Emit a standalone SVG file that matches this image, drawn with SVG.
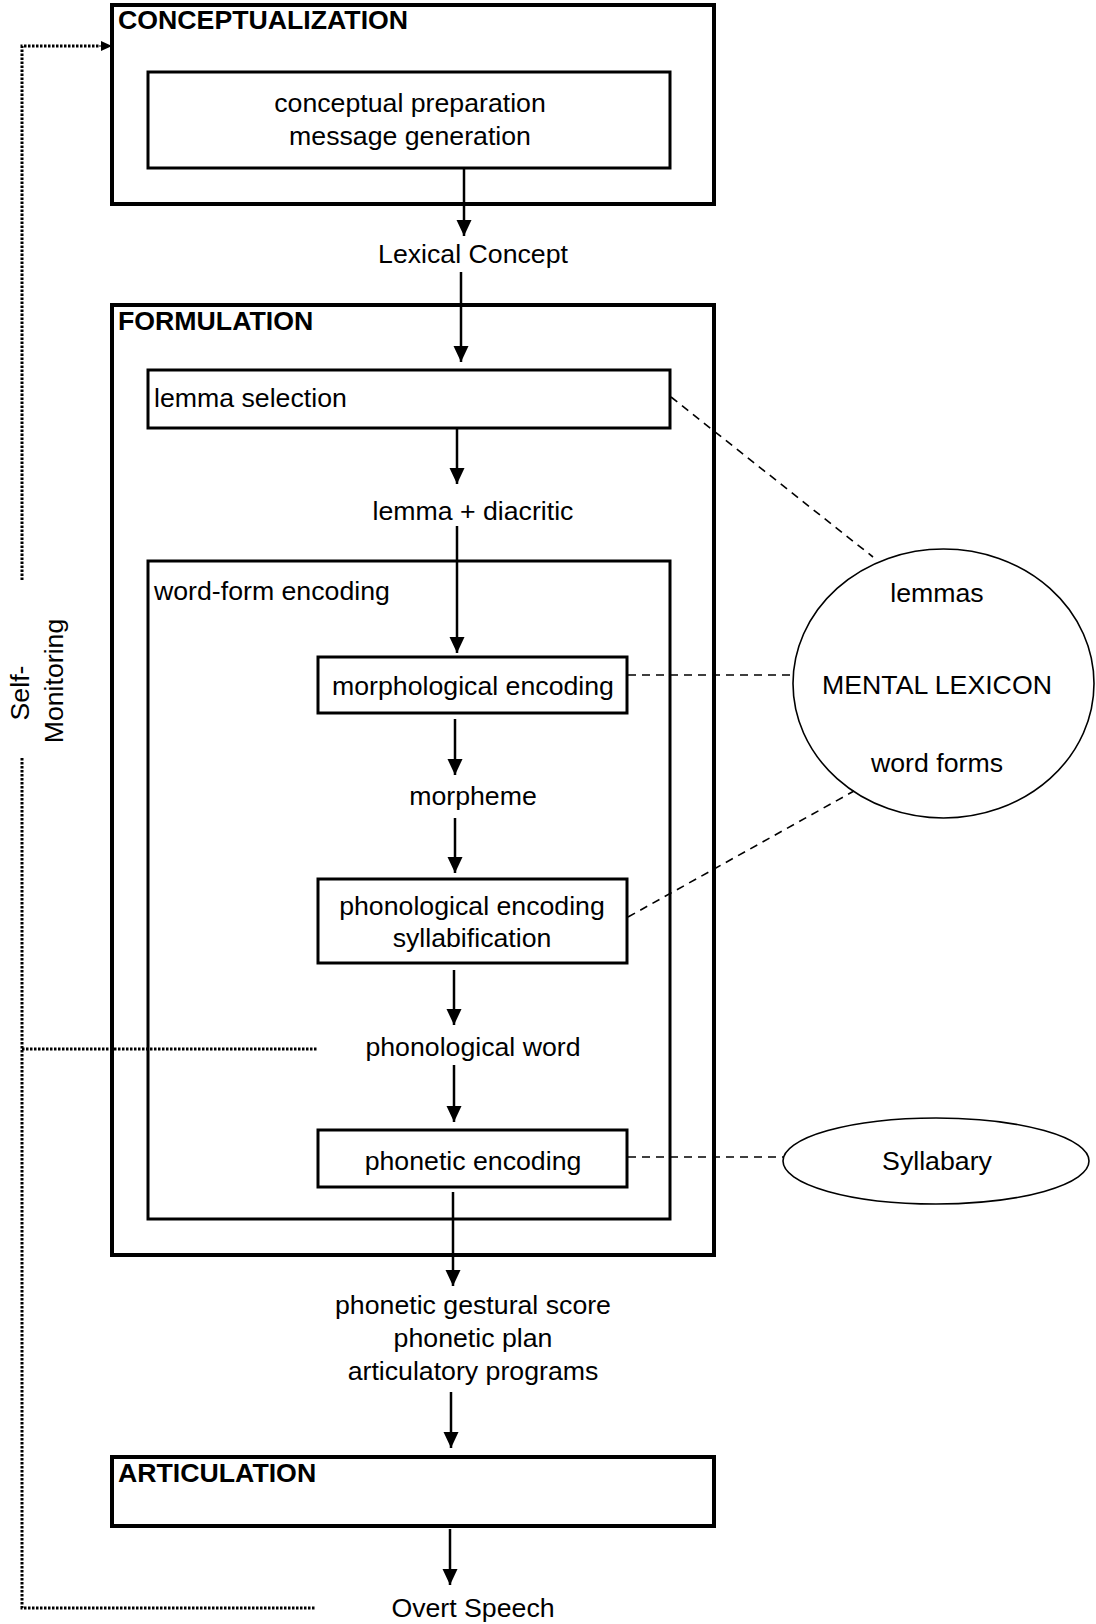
<svg xmlns="http://www.w3.org/2000/svg" width="1096" height="1624" viewBox="0 0 1096 1624">
<style>
text{font-family:"Liberation Sans",Arial,sans-serif;font-size:26.7px;fill:#000}
.b{font-weight:bold}
.m{text-anchor:middle}
.outer{fill:none;stroke:#000;stroke-width:4}
.inner{fill:none;stroke:#000;stroke-width:3}
.ell{fill:none;stroke:#000;stroke-width:1.6}
.arr{stroke:#000;stroke-width:2.5;fill:none;marker-end:url(#ah)}
.dash{stroke:#000;stroke-width:1.6;fill:none;stroke-dasharray:8 6}
.dot{stroke:#000;stroke-width:3;fill:none;stroke-dasharray:2.5 1.5}
</style>
<defs>
<marker id="ah" markerUnits="userSpaceOnUse" markerWidth="16" markerHeight="18" refX="16" refY="7.5" orient="auto">
<path d="M0,0 L16,7.5 L0,15 Z" fill="#000"/>
</marker>
<marker id="ahs" markerUnits="userSpaceOnUse" markerWidth="12" markerHeight="12" refX="11" refY="5" orient="auto">
<path d="M0,0 L11,5 L0,10 Z" fill="#000"/>
</marker>
</defs>

<g id="connectors">
<line class="arr" x1="464" y1="168" x2="464" y2="236"/>
<line class="arr" x1="461" y1="272" x2="461" y2="362"/>
<line class="arr" x1="457" y1="428" x2="457" y2="484"/>
<line class="arr" x1="457" y1="526" x2="457" y2="653"/>
<line class="arr" x1="455" y1="719" x2="455" y2="775"/>
<line class="arr" x1="455" y1="818" x2="455" y2="873"/>
<line class="arr" x1="454" y1="970" x2="454" y2="1025"/>
<line class="arr" x1="454" y1="1065" x2="454" y2="1122"/>
<line class="arr" x1="453" y1="1192" x2="453" y2="1286"/>
<line class="arr" x1="451" y1="1392" x2="451" y2="1448"/>
<line class="arr" x1="450" y1="1529" x2="450" y2="1585"/>
<line class="dash" x1="671" y1="397" x2="873" y2="557"/>
<line class="dash" x1="628" y1="675" x2="793" y2="675"/>
<line class="dash" x1="628" y1="917" x2="854" y2="791"/>
<line class="dash" x1="628" y1="1157" x2="783" y2="1157"/>
<path class="dot" d="M22,580 L22,46 L100,46"/>
<line x1="99" y1="46" x2="112" y2="46" stroke="#000" stroke-width="1" marker-end="url(#ahs)"/>
<path class="dot" d="M22,758 L22,1608 L316,1608"/>
<line class="dot" x1="22" y1="1049" x2="318" y2="1049"/>
</g>

<g id="conceptualization">
<rect class="outer" x="112" y="5" width="602" height="199"/>
<text class="b" x="118" y="29">CONCEPTUALIZATION</text>
</g>
<g id="conceptual-preparation">
<rect class="inner" x="148" y="72" width="522" height="96"/>
<text class="m" x="410" y="112">conceptual preparation</text>
<text class="m" x="410" y="145">message generation</text>
</g>
<g id="lexical-concept"><text class="m" x="473" y="263">Lexical Concept</text></g>

<g id="formulation">
<rect class="outer" x="112" y="305" width="602" height="950"/>
<text class="b" x="118" y="330">FORMULATION</text>
</g>
<g id="lemma-selection">
<rect class="inner" x="148" y="370" width="522" height="58"/>
<text x="154" y="407">lemma selection</text>
</g>
<g id="lemma-diacritic"><text class="m" x="473" y="520">lemma + diacritic</text></g>
<g id="word-form-encoding">
<rect class="inner" x="148" y="561" width="522" height="658"/>
<text x="154" y="600">word-form encoding</text>
</g>
<g id="morphological-encoding">
<rect class="inner" x="318" y="657" width="309" height="56"/>
<text class="m" x="473" y="695">morphological encoding</text>
</g>
<g id="morpheme"><text class="m" x="473" y="805">morpheme</text></g>
<g id="phonological-encoding">
<rect class="inner" x="318" y="879" width="309" height="84"/>
<text class="m" x="472" y="915">phonological encoding</text>
<text class="m" x="472" y="947">syllabification</text>
</g>
<g id="phonological-word"><text class="m" x="473" y="1056">phonological word</text></g>
<g id="phonetic-encoding">
<rect class="inner" x="318" y="1130" width="309" height="57"/>
<text class="m" x="473" y="1170">phonetic encoding</text>
</g>
<g id="phonetic-score">
<text class="m" x="473" y="1314">phonetic gestural score</text>
<text class="m" x="473" y="1347">phonetic plan</text>
<text class="m" x="473" y="1380">articulatory programs</text>
</g>
<g id="articulation">
<rect class="outer" x="112" y="1457" width="602" height="69"/>
<text class="b" x="118" y="1482">ARTICULATION</text>
</g>
<g id="overt-speech"><text class="m" x="473" y="1617">Overt Speech</text></g>

<g id="mental-lexicon">
<ellipse class="ell" cx="943.5" cy="683.5" rx="150.5" ry="134.5"/>
<text class="m" x="937" y="602">lemmas</text>
<text class="m" x="937" y="694">MENTAL LEXICON</text>
<text class="m" x="937" y="772">word forms</text>
</g>
<g id="syllabary">
<ellipse class="ell" cx="936" cy="1161" rx="153" ry="43"/>
<text class="m" x="937" y="1170">Syllabary</text>
</g>
<g id="self-monitoring">
<text class="m" transform="translate(29,693) rotate(-90)">Self-</text>
<text class="m" transform="translate(63,681) rotate(-90)">Monitoring</text>
</g>
</svg>
